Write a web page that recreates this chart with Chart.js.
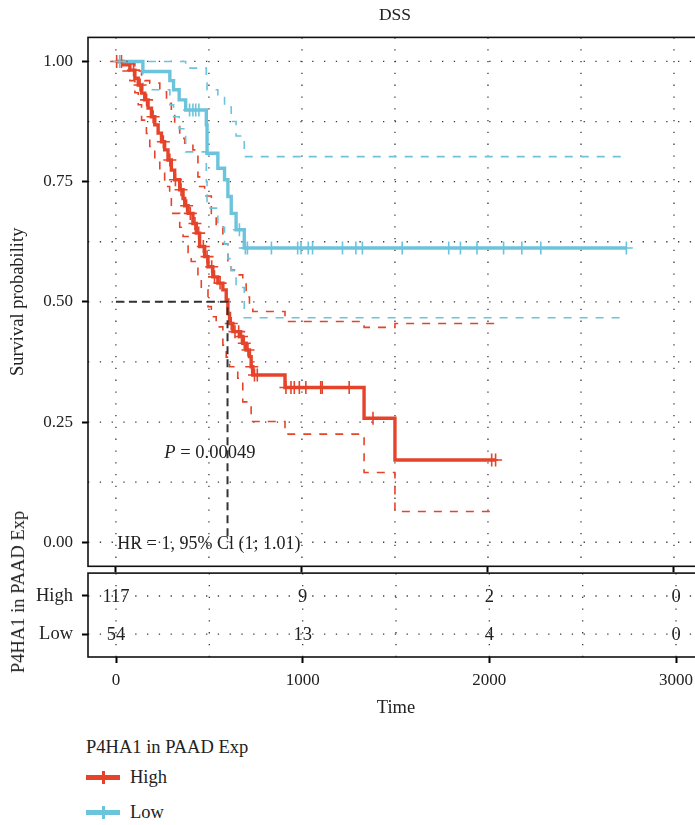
<!DOCTYPE html>
<html><head><meta charset="utf-8">
<script src="https://cdn.jsdelivr.net/npm/chart.js@4"></script>
<style>
html,body{margin:0;padding:0;background:#fff;overflow:hidden;width:695px;height:825px;}
#wrap{position:relative;width:695px;height:825px;overflow:hidden;font-family:'Liberation Serif',serif;color:#222;}
#c1{position:absolute;left:0;top:0;}
#c2{position:absolute;left:0;top:553px;}
.rot{position:absolute;left:18px;top:592px;transform:translate(-50%,-50%) rotate(-90deg);white-space:nowrap;font-size:18.5px;line-height:20px;}
.leg-title{position:absolute;left:86px;top:736px;font-size:18.5px;line-height:22px;white-space:nowrap;}
.leg-item{position:absolute;left:86px;height:22px;width:120px;font-size:18.5px;line-height:22px;}
.key{position:absolute;left:0;top:9px;width:34px;height:4.5px;}
.tick{position:absolute;left:15.5px;top:5px;width:3px;height:13px;}
.lab{position:absolute;left:44px;top:0;}
</style></head>
<body>
<div id="wrap">
<canvas id="c1" width="710" height="586"></canvas>
<canvas id="c2" width="710" height="167"></canvas>
<div class="rot">P4HA1 in PAAD Exp</div>
<div class="leg-title">P4HA1 in PAAD Exp</div>
<div class="leg-item" style="top:766px"><div class="key" id="kH"></div><div class="tick" id="tH"></div><div class="lab">High</div></div>
<div class="leg-item" style="top:801px"><div class="key" id="kL"></div><div class="tick" id="tL"></div><div class="lab">Low</div></div>
</div>
<script>
// ---------- data ----------
const groups = ['High', 'Low'];
const xTickVals = [0, 1000, 2000, 3000];
const yTickVals = [0, 0.25, 0.5, 0.75, 1];
const xGridVals = [0, 500, 1000, 1500, 2000, 2500, 3000];
const yGridVals = [0, 0.125, 0.25, 0.375, 0.5, 0.625, 0.75, 0.875, 1];

const highTime = [0, 39, 75, 102, 120, 138, 155, 173, 191, 209, 227, 245, 262, 280, 298, 316, 343, 361, 370, 388, 414, 432, 450, 477, 495, 521, 548, 575, 593, 602, 611, 629, 664, 682, 700, 718, 727, 736, 909, 1334, 1500, 2041];
const highSurv = [1, 0.993, 0.982, 0.965, 0.951, 0.934, 0.92, 0.903, 0.885, 0.868, 0.851, 0.833, 0.816, 0.795, 0.774, 0.754, 0.733, 0.715, 0.70, 0.684, 0.663, 0.643, 0.615, 0.594, 0.573, 0.552, 0.539, 0.525, 0.504, 0.476, 0.455, 0.438, 0.428, 0.414, 0.40, 0.386, 0.365, 0.348, 0.322, 0.258, 0.171, 0.171];
const highUpperTime = [0, 75, 102, 138, 155, 182, 236, 272, 298, 316, 343, 370, 414, 441, 450, 477, 513, 539, 575, 602, 620, 655, 682, 700, 718, 736, 909, 1334, 1500, 2041];
const highUpper = [1, 0.995, 0.98, 0.97, 0.96, 0.955, 0.937, 0.913, 0.892, 0.87, 0.84, 0.83, 0.816, 0.76, 0.74, 0.72, 0.684, 0.656, 0.62, 0.58, 0.566, 0.556, 0.539, 0.51, 0.49, 0.48, 0.459, 0.447, 0.455, 0.455];
const highLowerTime = [0, 39, 75, 102, 120, 138, 164, 182, 209, 236, 262, 289, 298, 343, 361, 388, 405, 441, 459, 495, 513, 539, 575, 593, 611, 655, 682, 727, 909, 1334, 1500, 2041];
const highLower = [1, 0.98, 0.96, 0.935, 0.91, 0.878, 0.85, 0.823, 0.79, 0.768, 0.74, 0.72, 0.684, 0.655, 0.636, 0.601, 0.584, 0.552, 0.525, 0.49, 0.469, 0.448, 0.41, 0.385, 0.365, 0.341, 0.292, 0.251, 0.225, 0.145, 0.064, 0.064];
const highCensor = [4, 30, 95, 130, 165, 200, 255, 290, 320, 350, 380, 400, 425, 445, 470, 490, 515, 530, 560, 620, 640, 660, 675, 690, 710, 730, 745, 760, 914, 941, 959, 986, 1021, 1101, 1109, 1254, 1382, 2020, 2041];

const lowTime = [0, 145, 290, 310, 340, 375, 486, 490, 548, 584, 602, 620, 646, 690, 2744];
const lowSurv = [1, 0.979, 0.96, 0.941, 0.92, 0.899, 0.868, 0.809, 0.778, 0.754, 0.719, 0.684, 0.65, 0.612, 0.612];
const lowUpperTime = [0, 375, 486, 490, 548, 584, 620, 646, 690, 2744];
const lowUpper = [1, 0.986, 0.965, 0.941, 0.925, 0.905, 0.875, 0.845, 0.802, 0.802];
const lowLowerTime = [0, 145, 290, 310, 340, 375, 486, 490, 548, 584, 602, 620, 646, 690, 2744];
const lowLower = [1, 0.941, 0.91, 0.885, 0.86, 0.812, 0.75, 0.695, 0.655, 0.62, 0.59, 0.565, 0.53, 0.467, 0.467];
const lowCensor = [20, 396, 414, 429, 446, 664, 696, 707, 836, 977, 995, 1034, 1057, 1218, 1290, 1325, 1539, 1789, 1852, 1941, 2084, 2182, 2284, 2744];

const medianHigh = 600;
const medianLevel = 0.5;

const riskTimes = [0, 1000, 2000, 3000];
const riskHigh = [117, 9, 2, 0];
const riskLow = [54, 13, 4, 0];

const pText = 'P = 0.00049';
const hrText = 'HR = 1, 95% Cl (1; 1.01)';
// ---------- styles ----------
const RED = '#E5432A';
const BLUE = '#6CC4DC';
const FONT = 'Liberation Serif';
const TXT = '#222';
const TS = 18.5;

document.getElementById('kH').style.background = RED;
document.getElementById('tH').style.background = RED;
document.getElementById('kL').style.background = BLUE;
document.getElementById('tL').style.background = BLUE;

function pts(t, s) { return t.map((v, i) => ({x: v, y: s[i]})); }
function survAt(t, s, x) { let v = s[0]; for (let i = 0; i < t.length; i++) { if (t[i] <= x) v = s[i]; else break; } return v; }

function stepDS(t, s, color, w, dash) {
  return {type: 'line', data: pts(t, s), borderColor: color, borderWidth: w, borderDash: dash || [],
    stepped: true, pointRadius: 0, fill: false, tension: 0};
}
function censorDS(times, t, s, color) {
  return {type: 'line', showLine: false, data: times.map(c => ({x: c, y: survAt(t, s, c)})),
    pointStyle: 'cross', pointRadius: 6.5, pointBorderWidth: 1.6, borderColor: color, backgroundColor: color};
}

function dotted(ctx, x1, y1, x2, y2) {
  ctx.beginPath(); ctx.moveTo(x1, y1); ctx.lineTo(x2, y2); ctx.stroke();
}

const gridFrame = (xs, ys) => ({
  id: 'gridFrame',
  beforeDatasetsDraw(chart) {
    const {ctx, chartArea: a, scales} = chart;
    ctx.save();
    ctx.strokeStyle = '#3a3a3a'; ctx.lineWidth = 1.3; ctx.setLineDash([1.3, 10.5]);
    xs.forEach(v => { const p = scales.x.getPixelForValue(v); dotted(ctx, p, a.top, p, a.bottom); });
    ys.forEach(v => { const p = scales.y.getPixelForValue(v); dotted(ctx, a.left, p, a.right, p); });
    ctx.restore();
  },
  afterDraw(chart) {
    const {ctx, chartArea: a} = chart;
    ctx.save(); ctx.strokeStyle = '#111'; ctx.lineWidth = 1.6;
    ctx.strokeRect(a.left, a.top, a.right - a.left, a.bottom - a.top);
    ctx.restore();
  }
});

const annot = {
  id: 'annot',
  beforeDatasetsDraw(chart) {
    const {ctx, scales} = chart;
    ctx.save();
    ctx.fillStyle = TXT; ctx.textBaseline = 'middle';
    const px = scales.x.getPixelForValue(505), py = scales.y.getPixelForValue(0.186);
    const fI = 'italic ' + TS + 'px "' + FONT + '"', fN = TS + 'px "' + FONT + '"';
    ctx.font = fI;
    const p0 = pText.slice(0, 1);
    const w0 = ctx.measureText(p0).width;
    ctx.font = fN;
    const rest = pText.slice(1);
    const w1 = ctx.measureText(rest).width;
    const sx = px - (w0 + w1) / 2;
    ctx.textAlign = 'left';
    ctx.font = fI; ctx.fillText(p0, sx, py);
    ctx.font = fN; ctx.fillText(rest, sx + w0, py);
    ctx.textAlign = 'center';
    ctx.font = '18px "' + FONT + '"';
    ctx.fillText(hrText, scales.x.getPixelForValue(500), scales.y.getPixelForValue(-0.004));
    ctx.restore();
  }
};

const tickGrid = {drawOnChartArea: false, drawTicks: true, tickLength: 6, tickWidth: 2, tickColor: '#000'};

new Chart(document.getElementById('c1'), {
  data: {datasets: [
    {type: 'line', data: [{x: 0, y: medianLevel}, {x: medianHigh, y: medianLevel}, {x: medianHigh, y: 0}],
      borderColor: '#333', borderWidth: 2, borderDash: [8, 5], pointRadius: 0, fill: false},
    censorDS(lowCensor, lowTime, lowSurv, BLUE),
    censorDS(highCensor, highTime, highSurv, RED),
    stepDS(lowTime, lowSurv, BLUE, 3.4),
    stepDS(highTime, highSurv, RED, 3.4),
    stepDS(lowUpperTime, lowUpper, BLUE, 1.6, [8, 8]),
    stepDS(lowLowerTime, lowLower, BLUE, 1.6, [8, 8]),
    stepDS(highUpperTime, highUpper, RED, 1.6, [8, 8]),
    stepDS(highLowerTime, highLower, RED, 1.6, [8, 8])
  ]},
  options: {
    responsive: false, animation: false, devicePixelRatio: 1,
    layout: {padding: {left: 0, right: 6, top: 0, bottom: 0}},
    plugins: {
      legend: {display: false}, tooltip: {enabled: false},
      title: {display: true, text: 'DSS', fullSize: false, color: TXT,
        font: {family: FONT, size: 17.5, weight: 'normal'}, padding: {top: 5, bottom: 11.4}}
    },
    scales: {
      x: {type: 'linear', min: -150, max: 3150,
        afterBuildTicks: s => { s.ticks = xTickVals.map(v => ({value: v})); },
        ticks: {display: false}, grid: tickGrid, border: {display: false},
        afterFit: s => { s.height = 19.7; }},
      y: {type: 'linear', min: -0.05, max: 1.05,
        afterBuildTicks: s => { s.ticks = yTickVals.map(v => ({value: v})); },
        ticks: {callback: v => Number(v).toFixed(2), color: TXT, font: {family: FONT, size: 17}, padding: 9},
        grid: tickGrid, border: {display: false},
        title: {display: true, text: 'Survival probability', color: TXT, font: {family: FONT, size: TS}, padding: {top: 7, bottom: 0}},
        afterFit: s => { s.width = 88; }}
    }
  },
  plugins: [gridFrame(xGridVals, yGridVals), annot]
});

const riskText = {
  id: 'riskText',
  afterDatasetsDraw(chart) {
    const ctx = chart.ctx;
    ctx.save();
    ctx.font = TS + 'px "' + FONT + '"'; ctx.fillStyle = TXT; ctx.textAlign = 'center'; ctx.textBaseline = 'middle';
    chart.data.datasets.forEach((ds, di) => {
      chart.getDatasetMeta(di).data.forEach((pt, i) => { ctx.fillText(String(ds.counts[i]), pt.x, pt.y + 1); });
    });
    ctx.restore();
  }
};

new Chart(document.getElementById('c2'), {
  data: {datasets: [
    {type: 'scatter', label: groups[0], counts: riskHigh, data: riskTimes.map(t => ({x: t, y: 2})), pointRadius: 0},
    {type: 'scatter', label: groups[1], counts: riskLow, data: riskTimes.map(t => ({x: t, y: 1})), pointRadius: 0}
  ]},
  options: {
    responsive: false, animation: false, devicePixelRatio: 1,
    layout: {padding: {left: 0, right: 6, top: 0, bottom: 0}},
    plugins: {legend: {display: false}, tooltip: {enabled: false}},
    scales: {
      x: {type: 'linear', min: -150, max: 3150,
        afterBuildTicks: s => { s.ticks = xTickVals.map(v => ({value: v})); },
        ticks: {callback: v => String(v), color: TXT, font: {family: FONT, size: 17}, padding: 7, maxRotation: 0},
        grid: tickGrid, border: {display: false},
        title: {display: true, text: 'Time', color: TXT, font: {family: FONT, size: TS}, padding: {top: 0, bottom: 1}},
        afterFit: s => { s.height = 63; }},
      y: {type: 'linear', min: 0.4, max: 2.6,
        afterBuildTicks: s => { s.ticks = [{value: 1}, {value: 2}]; },
        ticks: {callback: v => (v === 2 ? groups[0] : groups[1]), color: TXT, font: {family: FONT, size: TS}, padding: 9},
        grid: tickGrid, border: {display: false},
        afterFit: s => { s.width = 88; }}
    }
  },
  plugins: [gridFrame(xGridVals, [1, 2]), riskText]
});
</script>
</body></html>
